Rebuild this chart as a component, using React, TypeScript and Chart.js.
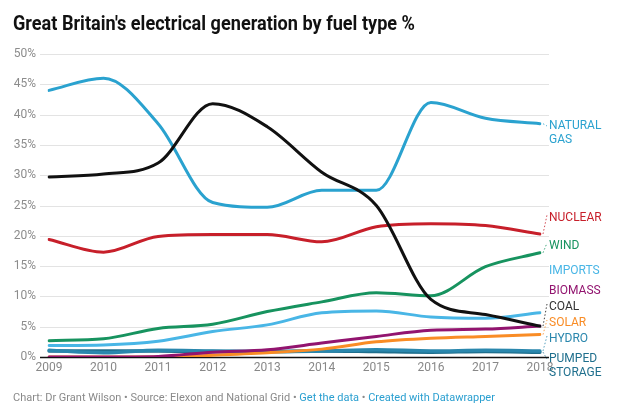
import React, { useEffect, useRef } from "react";
import { Chart, registerables } from "chart.js";

Chart.register(...registerables);

const years = ["2009", "2010", "2011", "2012", "2013", "2014", "2015", "2016", "2017", "2018"];

const naturalGas = [44.0, 46.0, 38.5, 25.5, 24.7, 27.5, 27.5, 42.0, 39.4, 38.5];
const coal = [29.7, 30.2, 32.0, 41.8, 38.0, 30.5, 25.0, 9.5, 7.0, 5.1];
const nuclear = [19.4, 17.3, 19.9, 20.2, 20.2, 19.0, 21.5, 22.0, 21.7, 20.3];
const wind = [2.7, 3.0, 4.7, 5.4, 7.5, 9.1, 10.6, 10.1, 14.9, 17.2];
const imports = [1.9, 2.0, 2.6, 4.2, 5.3, 7.3, 7.6, 6.6, 6.4, 7.3];
const biomass = [0.0, 0.0, 0.1, 0.8, 1.2, 2.3, 3.4, 4.4, 4.6, 5.1];
const solar = [0.0, 0.0, 0.0, 0.3, 0.7, 1.3, 2.5, 3.1, 3.4, 3.7];
const hydro = [1.1, 0.7, 1.1, 1.0, 0.9, 1.0, 1.2, 1.0, 1.1, 1.0];
const pumpedStorage = [1.0, 1.0, 1.0, 0.9, 0.9, 1.0, 0.9, 0.8, 0.9, 0.8];

const yTicks = [0, 5, 10, 15, 20, 25, 30, 35, 40, 45, 50];

const title = "Great Britain's electrical generation by fuel type %";
const footerParts = [
  { text: "Chart: Dr Grant Wilson • Source: Elexon and National Grid • ", link: false },
  { text: "Get the data", link: true },
  { text: " • ", link: false },
  { text: "Created with Datawrapper", link: true },
];

type Series = {
  name: string[];
  data: number[];
  color: string;
  labelColor: string;
  labelY: number;
  connector: boolean;
  width: number;
};

const series: Series[] = [
  { name: ["NATURAL", "GAS"], data: naturalGas, color: "#2aa2cf", labelColor: "#2aa2cf", labelY: 126, connector: true, width: 3 },
  { name: ["NUCLEAR"], data: nuclear, color: "#c71f2a", labelColor: "#c71f2a", labelY: 218, connector: true, width: 3 },
  { name: ["WIND"], data: wind, color: "#17935f", labelColor: "#17935f", labelY: 246, connector: true, width: 3 },
  { name: ["IMPORTS"], data: imports, color: "#49b6e6", labelColor: "#49b6e6", labelY: 271, connector: false, width: 3 },
  { name: ["BIOMASS"], data: biomass, color: "#92146f", labelColor: "#92146f", labelY: 291, connector: false, width: 3 },
  { name: ["COAL"], data: coal, color: "#111111", labelColor: "#333333", labelY: 307, connector: true, width: 3 },
  { name: ["SOLAR"], data: solar, color: "#f98c25", labelColor: "#f98c25", labelY: 323, connector: true, width: 3 },
  { name: ["HYDRO"], data: hydro, color: "#2a87ad", labelColor: "#2a87ad", labelY: 339, connector: true, width: 3.5 },
  { name: ["PUMPED", "STORAGE"], data: pumpedStorage, color: "#1f6f8d", labelColor: "#1f6f8d", labelY: 359, connector: true, width: 3.5 },
];

// draw order: first in this list is on top
const drawOrder = ["COAL", "NATURAL", "NUCLEAR", "WIND", "IMPORTS", "BIOMASS", "SOLAR", "HYDRO", "PUMPED"];

const FONT = "Roboto, 'Noto Sans', sans-serif";

const decorPlugin = {
  id: "decor",
  beforeDatasetsDraw(chart: any) {
    const ctx = chart.ctx;
    const y = chart.scales.y;
    const area = chart.chartArea;
    ctx.save();
    ctx.lineWidth = 1;
    ctx.strokeStyle = "#e3e3e3";
    for (const v of yTicks) {
      if (v === 0) continue;
      const py = Math.round(y.getPixelForValue(v)) + 0.5;
      ctx.beginPath();
      ctx.moveTo(area.left - 9, py);
      ctx.lineTo(area.right + 9, py);
      ctx.stroke();
    }
    const p0 = Math.round(y.getPixelForValue(0)) + 0.5;
    ctx.strokeStyle = "#111";
    ctx.lineWidth = 1.5;
    ctx.beginPath();
    ctx.moveTo(area.left - 9, p0);
    ctx.lineTo(area.right + 9, p0);
    ctx.stroke();
    ctx.restore();
  },
  afterDraw(chart: any) {
    const ctx = chart.ctx;
    const x = chart.scales.x;
    const y = chart.scales.y;
    ctx.save();
    // title
    ctx.font = `bold 20px ${FONT}`;
    ctx.fillStyle = "#111";
    ctx.textBaseline = "alphabetic";
    ctx.textAlign = "left";
    const tw = ctx.measureText(title).width;
    const target = 402;
    ctx.save();
    ctx.translate(13, 30);
    ctx.scale(target / tw, 1);
    ctx.fillText(title, 0, 0);
    ctx.restore();

    // footer
    ctx.font = `11px ${FONT}`;
    let fx = 13;
    for (const p of footerParts) {
      ctx.fillStyle = p.link ? "#2a9fd0" : "#8a8a8a";
      ctx.fillText(p.text, fx, 401);
      fx += ctx.measureText(p.text).width;
    }

    // series labels
    const lastIdx = years.length - 1;
    const ex = x.getPixelForValue(lastIdx);
    ctx.font = `12px ${FONT}`;
    ctx.textBaseline = "middle";
    for (const s of series) {
      const ey = y.getPixelForValue(s.data[lastIdx]);
      if (s.connector) {
        ctx.strokeStyle = s.color;
        ctx.globalAlpha = 0.8;
        ctx.lineWidth = 1;
        ctx.setLineDash([1.5, 2]);
        ctx.beginPath();
        ctx.moveTo(ex + 3, ey);
        ctx.lineTo(ex + 7, s.labelY - (s.name.length > 1 ? 0 : 3));
        ctx.stroke();
        ctx.setLineDash([]);
        ctx.globalAlpha = 1;
      }
      ctx.fillStyle = s.labelColor;
      s.name.forEach((line, i) => {
        ctx.fillText(line, ex + 9, s.labelY + i * 13.5);
      });
    }
    ctx.restore();
  },
};

export default function App() {
  const ref = useRef<HTMLCanvasElement | null>(null);
  useEffect(() => {
    if (!ref.current) return;
    const datasets = series.map((s) => ({
      label: s.name.join(" "),
      data: s.data,
      borderColor: s.color,
      backgroundColor: s.color,
      borderWidth: s.width,
      pointRadius: 0,
      cubicInterpolationMode: "monotone" as const,
      fill: false,
      borderCapStyle: "round" as const,
      order: drawOrder.indexOf(s.name[0]),
    }));
    const chart = new Chart(ref.current, {
      type: "line",
      data: { labels: years, datasets },
      plugins: [decorPlugin],
      options: {
        animation: false,
        responsive: false,
        devicePixelRatio: 1,
        layout: { padding: { top: 54, right: 85, bottom: 25, left: 0 } },
        plugins: { legend: { display: false }, tooltip: { enabled: false }, title: { display: false } },
        scales: {
          x: {
            type: "category",
            offset: false,
            grid: { display: false, drawTicks: false },
            border: { display: false },
            ticks: {
              color: "#888",
              font: { family: FONT, size: 12 },
              padding: 4,
              maxRotation: 0,
              autoSkip: false,
            },
            afterFit(scale: any) {
              scale.height = 30;
            },
          },
          y: {
            min: 0,
            max: 50,
            grid: { display: false, drawTicks: false },
            border: { display: false },
            afterBuildTicks(scale: any) {
              scale.ticks = yTicks.map((v) => ({ value: v }));
            },
            ticks: {
              color: "#8c8c8c",
              font: { family: FONT, size: 12 },
              padding: 13,
              callback: (v: any) => `${v}%`,
            },
            afterFit(scale: any) {
              scale.width = 49;
            },
          },
        },
      },
    });
    return () => chart.destroy();
  }, []);
  return (
    <div style={{ position: "absolute", left: 0, top: 0, width: 625, height: 412, background: "#fff" }}>
      <canvas ref={ref} width={625} height={412} style={{ width: 625, height: 412, display: "block" }} />
    </div>
  );
}
